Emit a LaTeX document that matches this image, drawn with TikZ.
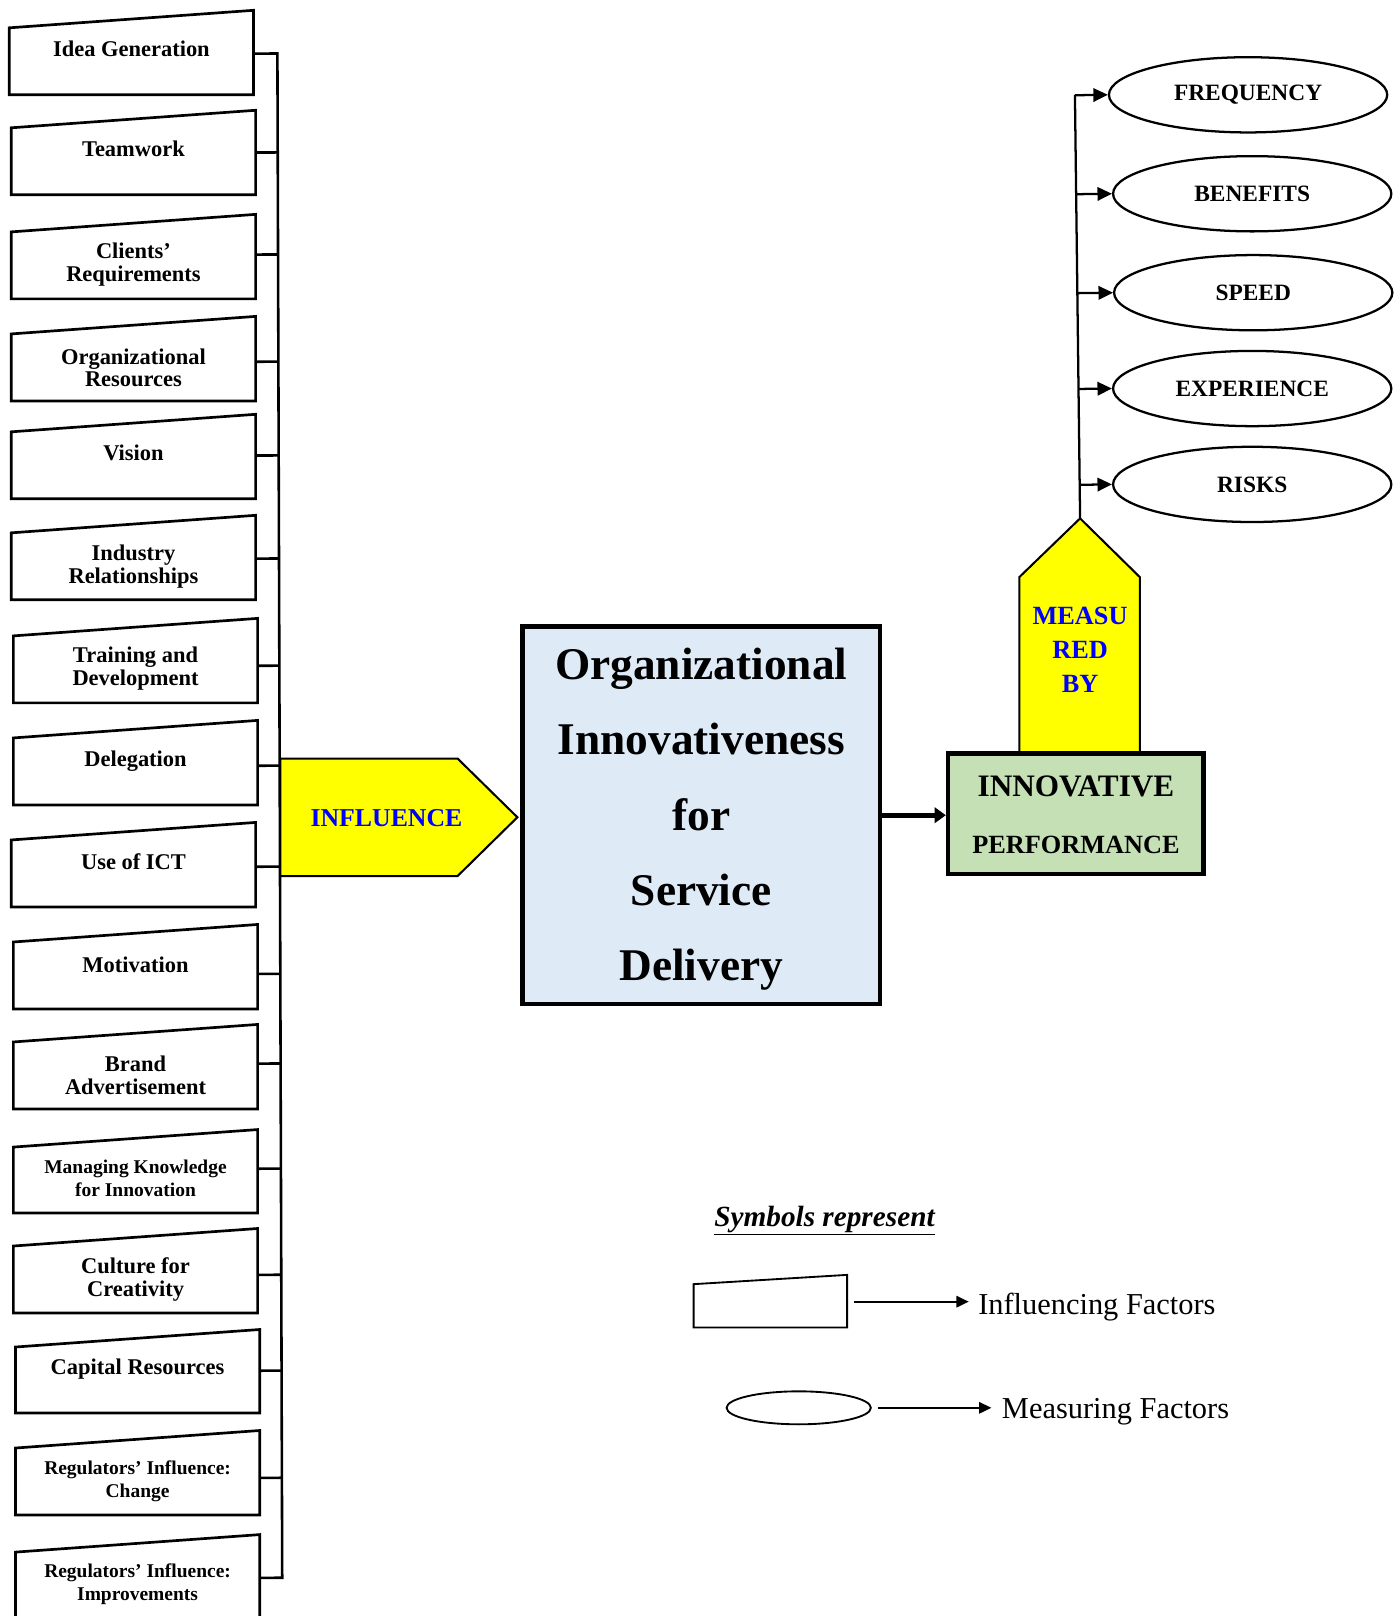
\documentclass[tikz,border=0pt]{standalone}
\usepackage{fontspec}
\setmainfont{Liberation Serif}
\usetikzlibrary{arrows.meta,shapes.geometric,calc}
\definecolor{boxblue}{HTML}{DEEAF6}
\definecolor{boxgreen}{HTML}{C5E0B4}
\definecolor{arrowyellow}{HTML}{FFFF00}
\definecolor{labelblue}{HTML}{0000FF}
\tikzset{
  infline/.style={draw=black,line width=2.6pt,line join=miter},
  inflabel/.style={font=\bfseries\fontsize{21.8}{22}\selectfont,align=center,inner sep=0pt},
  smalllab/.style={font=\bfseries\fontsize{18.9}{22.5}\selectfont},
  conn/.style={draw=black,line width=2.5pt},
  measarrow/.style={draw=black,line width=2.2pt,-{Triangle[length=14pt,width=13pt]}},
  measell/.style={ellipse,draw=black,line width=2.2pt,minimum width=270pt,minimum height=73pt,
    inner sep=0pt,font=\bfseries\fontsize{22.7}{24}\selectfont},
  yellowshape/.style={fill=arrowyellow,draw=black,line width=2pt,line join=miter},
  bluelabel/.style={text=labelblue,font=\bfseries\fontsize{25.5}{33}\selectfont,align=center,inner sep=0pt},
  legarrow/.style={draw=black,line width=2pt,-{Triangle[length=12pt,width=11pt]}},
  legtext/.style={font=\fontsize{29.5}{30}\selectfont,anchor=west,inner sep=0pt}
}
\newcommand{\infbox}[8]{%
  \draw[infline] (#2,#3+17) -- (#2+237,#3) -- (#2+237,#4) -- (#2,#4) -- cycle;
  \node[inflabel,#8] (#1) at (#2+118.5,#6+2.5) {#7};
  \coordinate (#1s) at (#2+237,#5);
}
\begin{document}
\begin{tikzpicture}[x=1pt,y=-1pt]
\useasboundingbox[fill=white] (0,0) rectangle (1357,1568);

% influencing factor boxes
\infbox{b1}{9}{10}{92}{52}{45}{Idea Generation}{}
\infbox{b2}{11}{107}{189}{148}{142}{Teamwork}{}
\infbox{b3}{11}{208}{290}{247}{254.5}{Clients’\\Requirements}{}
\infbox{b4}{11}{307}{389}{351}{354.5}{Organizational\\Resources}{}
\infbox{b5}{11}{402}{484}{442}{437}{Vision}{}
\infbox{b6}{11}{500}{582}{542}{547.5}{Industry\\Relationships}{}
\infbox{b7}{13}{600}{682}{646}{646.5}{Training and\\Development}{}
\infbox{b8}{13}{699}{781}{743}{736}{Delegation}{}
\infbox{b9}{11}{798}{880}{841}{834}{Use of ICT}{}
\infbox{b10}{13}{897}{979}{945}{934}{Motivation}{}
\infbox{b11}{13}{994}{1076}{1032}{1041}{Brand\\Advertisement}{}
\infbox{b12}{13}{1096}{1177}{1134}{1141}{Managing Knowledge\\for Innovation}{smalllab}
\infbox{b13}{13}{1192}{1274}{1237}{1239}{Culture for\\Creativity}{}
\infbox{b14}{15}{1290}{1371}{1330}{1326}{Capital Resources}{}
\infbox{b15}{15}{1388}{1470}{1434}{1434.5}{Regulators’ Influence:\\Change}{smalllab}
\infbox{b16}{15}{1489}{1600}{1531}{1535}{Regulators’ Influence:\\Improvements}{smalllab}

% left bus
\coordinate (bt) at (269,0);
\coordinate (bb) at (274,1568);
\draw[conn] (b1s) -- ($(bt)!(b1s)!(bb)$) -- ($(bt)!(b16s)!(bb)$) -- (b16s);
\foreach \i in {2,...,15}{
  \draw[conn] (b\i s) -- ($(bt)!(b\i s)!(bb)$);
}

% INFLUENCE arrow
\draw[yellowshape] (272,736) -- (444,736) -- (502,793) -- (444,850) -- (272,850) -- cycle;
\node[bluelabel,font=\bfseries\fontsize{25}{30}\selectfont] (infl) at (375,794) {INFLUENCE};

% central box
\node[draw=black,line width=4.5pt,fill=boxblue,minimum width=347pt,minimum height=366pt,
  inner sep=0pt] (oisd) at (680.5,791) {};
\node[align=center,inner sep=0pt,font=\bfseries\fontsize{44}{73}\selectfont] (oisdtext) at (680.5,795)
  {Organizational\\Innovativeness\\for\\Service\\Delivery};

% MEASURED BY arrow
\coordinate (mtip) at (1048,503);
\draw[yellowshape] (989,735) -- (989,560) -- (mtip) -- (1106,560) -- (1106,735);
\node[bluelabel] (meas) at (1048,630.5) {MEASU\\RED\\BY};

% innovative performance box
\node[draw=black,line width=4.5pt,fill=boxgreen,minimum width=248pt,minimum height=117pt] (perf) at (1044,789.5) {};
\node[inner sep=0pt,font=\bfseries\fontsize{30.3}{32}\selectfont] (perfA) at (1044,763) {INNOVATIVE};
\node[inner sep=0pt,font=\bfseries\fontsize{25.5}{28}\selectfont] (perfB) at (1044,820) {PERFORMANCE};

\draw[line width=4.5pt,-{Triangle[length=11pt,width=15pt]}] (oisd.east) -- (oisd.east -| perf.west);

% measuring factors
\node[measell] (e1) at (1211,92) {FREQUENCY};
\node[measell] (e2) at (1215,188) {BENEFITS};
\node[measell] (e3) at (1216,284) {SPEED};
\node[measell] (e4) at (1215,377) {EXPERIENCE};
\node[measell] (e5) at (1215,470) {RISKS};
\coordinate (rtop) at (1043,92);
\draw[conn,line width=2.2pt] (mtip) -- (rtop);
\foreach \i in {1,...,5}{
  \draw[measarrow] ($(mtip)!(e\i.west)!(rtop)$) -- (e\i.west);
}

% legend
\node[inner sep=0pt,font=\bfseries\itshape\fontsize{28.4}{30}\selectfont] (legtitle) at (800,1184) {\underline{Symbols represent}};
\draw[line width=1.8pt] (673,1246) -- (822,1237) -- (822,1288) -- (673,1288) -- cycle;
\coordinate (legbox) at (829,1263);
\node[legtext] (lt1) at (949,1268) {Influencing Factors};
\draw[legarrow] (legbox) -- ([xshift=-9pt]lt1.west |- legbox);
\node[ellipse,draw=black,line width=1.8pt,minimum width=140pt,minimum height=32pt,inner sep=0pt] (legell) at (775,1366) {};
\node[legtext] (lt2) at (972,1370) {Measuring Factors};
\draw[legarrow] ([xshift=6pt]legell.east) -- ([xshift=-10pt]lt2.west |- legell.east);
\end{tikzpicture}
\end{document}
